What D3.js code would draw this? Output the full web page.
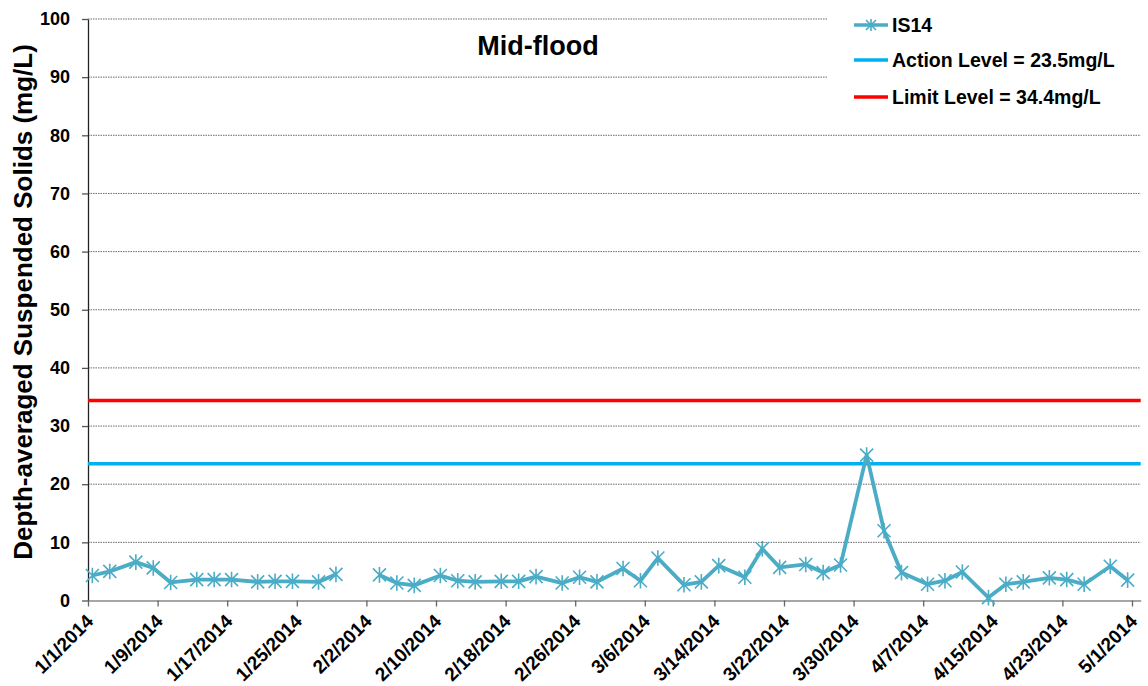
<!DOCTYPE html>
<html><head><meta charset="utf-8">
<script src="https://cdn.jsdelivr.net/npm/d3@7"></script>
<style>body{margin:0;background:#fff;font-family:"Liberation Sans",Arial,sans-serif;}</style>
</head><body><svg id="c" width="1148" height="686"></svg>
<script>
const dates = ["2014-01-01","2014-01-03","2014-01-06","2014-01-08","2014-01-10","2014-01-13","2014-01-15","2014-01-17","2014-01-20","2014-01-22","2014-01-24","2014-01-27","2014-01-29","2014-01-31",
"2014-02-03","2014-02-05","2014-02-07","2014-02-10","2014-02-12","2014-02-14","2014-02-17","2014-02-19","2014-02-21","2014-02-24","2014-02-26","2014-02-28",
"2014-03-03","2014-03-05","2014-03-07","2014-03-10","2014-03-12","2014-03-14","2014-03-17","2014-03-19","2014-03-21","2014-03-24","2014-03-26","2014-03-28","2014-03-31",
"2014-04-02","2014-04-04","2014-04-07","2014-04-09","2014-04-11","2014-04-14","2014-04-16","2014-04-18","2014-04-21","2014-04-23","2014-04-25","2014-04-28","2014-04-30"];
const is14 = [4.3,5.0,6.6,5.6,3.1,3.6,3.6,3.6,3.2,3.3,3.3,3.2,4.5,null,
4.4,3.0,2.6,4.3,3.4,3.2,3.3,3.3,4.1,3.0,4.0,3.2,
5.5,3.4,7.3,2.7,3.2,6.0,4.0,8.9,5.7,6.2,4.8,6.1,25.0,
12.0,4.8,2.8,3.4,4.9,0.5,2.8,3.2,3.9,3.6,2.8,5.9,3.5];
const actionLevel = 23.5, limitLevel = 34.4;
const tickDates = ["2014-01-01","2014-01-09","2014-01-17","2014-01-25","2014-02-02","2014-02-10","2014-02-18","2014-02-26","2014-03-06","2014-03-14","2014-03-22","2014-03-30","2014-04-07","2014-04-15","2014-04-23","2014-05-01"];
const yTicks = [0,10,20,30,40,50,60,70,80,90,100];
const legendLabels = ["IS14","Action Level = 23.5mg/L","Limit Level = 34.4mg/L"];

const parse = d3.utcParse("%Y-%m-%d");
const fmt = d => (d.getUTCMonth()+1)+"/"+d.getUTCDate()+"/"+d.getUTCFullYear();
const svg = d3.select("#c");
const L=88, R=1140.7, T=19, B=600.5;
const x = d3.scaleUtc().domain([parse("2014-01-01"), parse("2014-05-02")]).range([L,R]);
const y = d3.scaleLinear().domain([0,100]).range([B,T]);
const half = 12*3600*1000;
const xp = d => x(new Date(parse(d).getTime()+half));
const FF = "Liberation Sans, Arial, sans-serif";

// gridlines
svg.append("g").selectAll("line").data(yTicks.filter(v=>v>0)).join("line")
  .attr("x1",L).attr("x2",R).attr("y1",d=>y(d)).attr("y2",d=>y(d))
  .attr("stroke","#444").attr("stroke-width",0.8).attr("stroke-dasharray","1.5,1");

// y axis
const ya = svg.append("g").attr("transform",`translate(${L},0)`)
  .call(d3.axisLeft(y).tickValues(yTicks).tickSize(6).tickPadding(12).tickSizeOuter(0));
ya.select(".domain").attr("stroke","#222").attr("stroke-width",1.3);
ya.selectAll(".tick line").attr("stroke","#555").attr("stroke-width",1.3);
ya.selectAll("text").attr("font-size",18).attr("font-weight","bold").attr("fill","#000").attr("font-family",FF);

// x axis
const xa = svg.append("g").attr("transform",`translate(0,${B})`)
  .call(d3.axisBottom(x).tickValues(tickDates.map(parse)).tickFormat(fmt).tickSize(6).tickSizeOuter(0));
xa.select(".domain").attr("stroke","#888").attr("stroke-width",1.5);
xa.selectAll(".tick line").attr("stroke","#666").attr("stroke-width",1.3);
xa.selectAll("text").attr("font-size",19).attr("font-weight","bold").attr("fill","#000").attr("font-family",FF)
  .attr("text-anchor","end").attr("x",0).attr("y",0).attr("dy",0).attr("transform","translate(6,22) rotate(-45)");

// legend background covering grid
svg.append("rect").attr("x",827).attr("y",0).attr("width",321).attr("height",114).attr("fill","#fff");

// levels
svg.append("line").attr("x1",L).attr("x2",R).attr("y1",y(limitLevel)).attr("y2",y(limitLevel)).attr("stroke","#ff0000").attr("stroke-width",3.5);
svg.append("line").attr("x1",L).attr("x2",R).attr("y1",y(actionLevel)).attr("y2",y(actionLevel)).attr("stroke","#00b0f0").attr("stroke-width",3.5);

// series
const data = dates.map((d,i)=>({d, v:is14[i]}));
const line = d3.line().defined(p=>p.v!==null).x(p=>xp(p.d)).y(p=>y(p.v));
svg.append("path").datum(data).attr("d",line).attr("fill","none").attr("stroke","#4bacc6").attr("stroke-width",3.8).attr("stroke-linejoin","round");

function star(g, cx, cy, s){
  const p = `M${cx-s},${cy-s}L${cx+s},${cy+s}M${cx-s},${cy+s}L${cx+s},${cy-s}M${cx},${cy-s*1.2}L${cx},${cy+s*1.2}`;
  g.append("path").attr("d",p).attr("stroke","#4bacc6").attr("stroke-width",1.6).attr("fill","none");
}
const mg = svg.append("g");
data.filter(p=>p.v!==null).forEach(p=>star(mg, xp(p.d), y(p.v), 6.5));

// title
svg.append("text").attr("x",538).attr("y",55).attr("text-anchor","middle").attr("font-size",27).attr("font-weight","bold").attr("font-family",FF).text("Mid-flood");

// y label
svg.append("text").attr("transform","translate(32,302) rotate(-90)").attr("text-anchor","middle")
  .attr("font-size",26).attr("font-weight","bold").attr("font-family",FF).text("Depth-averaged Suspended Solids (mg/L)");

// legend
const lg = svg.append("g");
const ly = [25,60,97];
const lc = ["#4bacc6","#00b0f0","#ff0000"];
legendLabels.forEach((t,i)=>{
  lg.append("line").attr("x1",854).attr("x2",888).attr("y1",ly[i]).attr("y2",ly[i]).attr("stroke",lc[i]).attr("stroke-width",3.5);
  if(i===0) star(lg, 871, ly[i], 5);
  lg.append("text").attr("x",892).attr("y",ly[i]+7).attr("font-size",19.5).attr("font-weight","bold").attr("font-family",FF).text(t);
});
</script></body></html>
